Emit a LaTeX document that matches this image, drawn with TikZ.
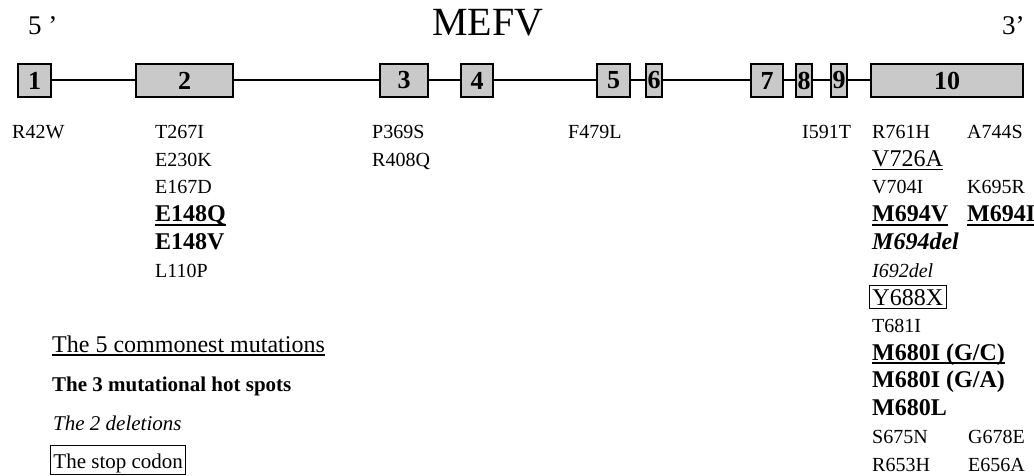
\documentclass[tikz,border=0pt]{standalone}
\usepackage{fontspec}
\setmainfont{Liberation Serif}
\begin{document}
\begin{tikzpicture}[x=1pt,y=-1pt,
  exon/.style={draw=black, line width=1.4pt, fill=black!21, inner sep=0pt, minimum height=33pt,
    font=\fontsize{26}{26}\selectfont\bfseries},
  intron/.style={line width=2pt},
  lbl/.style={anchor=base west, inner sep=0pt, font=\fontsize{20}{24}\selectfont},
  big/.style={anchor=base west, inner sep=0pt, font=\fontsize{24}{28}\selectfont},
  bigb/.style={big, font=\fontsize{24}{28}\selectfont\bfseries},
  ulthick/.style={line width=1.8pt},
  ulthin/.style={line width=1.1pt}]
\useasboundingbox (0,0) rectangle (1034,476);
% titles
\node[anchor=base west, inner sep=0pt, font=\fontsize{27}{30}\selectfont] (five) at (28,35) {5 ’};
\node[anchor=base west, inner sep=0pt, font=\fontsize{40}{44}\selectfont] (title) at (432,36) {MEFV};
\node[anchor=base west, inner sep=0pt, font=\fontsize{27}{30}\selectfont] (three) at (1002,35) {3’};
% exons
\node[exon, minimum width=33pt]  (e1)  at (34.5,80.5) {1};
\node[exon, minimum width=97pt]  (e2)  at (184.5,80.5) {2};
\node[exon, minimum width=48pt]  (e3)  at (404,80.5) {3};
\node[exon, minimum width=32pt]  (e4)  at (477,80.5) {4};
\node[exon, minimum width=33pt]  (e5)  at (613.5,80.5) {5};
\node[exon, minimum width=16pt]  (e6)  at (654,80.5) {6};
\node[exon, minimum width=32pt]  (e7)  at (767,80.5) {7};
\node[exon, minimum width=16pt]  (e8)  at (804,80.5) {8};
\node[exon, minimum width=16pt]  (e9)  at (839,80.5) {9};
\node[exon, minimum width=152pt] (e10) at (947,80.5) {10};
\draw[intron] (e1) -- (e2);
\draw[intron] (e2) -- (e3);
\draw[intron] (e3) -- (e4);
\draw[intron] (e4) -- (e5);
\draw[intron] (e5) -- (e6);
\draw[intron] (e6) -- (e7);
\draw[intron] (e7) -- (e8);
\draw[intron] (e8) -- (e9);
\draw[intron] (e9) -- (e10);
% mutations, exon 1-9
\node[lbl] (r42w) at (12,138.5) {R42W};
\node[lbl] (t267i) at (155,138.5) {T267I};
\node[lbl] (e230k) at (155,166.2) {E230K};
\node[lbl] (e167d) at (155,193.9) {E167D};
\node[bigb] (e148q) at (155,221.6) {E148Q};
\node[bigb] (e148v) at (155,249.3) {E148V};
\node[lbl] (l110p) at (155,277) {L110P};
\draw[ulthick] ([yshift=-3pt]e148q.base west) -- ([yshift=-3pt]e148q.base east);
\node[lbl] (p369s) at (372,138.5) {P369S};
\node[lbl] (r408q) at (372,166.2) {R408Q};
\node[lbl] (f479l) at (568,138.5) {F479L};
\node[lbl] (i591t) at (802,138.5) {I591T};
% exon 10
\node[lbl] (r761h) at (872,138.5) {R761H};
\node[lbl] (a744s) at (967,138.5) {A744S};
\node[big] (v726a) at (872,166.2) {V726A};
\draw[ulthin] ([yshift=-3pt]v726a.base west) -- ([yshift=-3pt]v726a.base east);
\node[lbl] (v704i) at (872,193.9) {V704I};
\node[lbl] (k695r) at (967,193.9) {K695R};
\node[bigb] (m694v) at (872,221.6) {M694V};
\node[bigb] (m694i) at (967,221.6) {M694I};
\draw[ulthick] ([yshift=-3pt]m694v.base west) -- ([yshift=-3pt]m694v.base east);
\draw[ulthick] ([yshift=-3pt]m694i.base west) -- ([yshift=-3pt]m694i.base east);
\node[big, font=\fontsize{24}{28}\selectfont\bfseries\itshape] (m694del) at (872,249.3) {M694del};
\node[lbl, font=\fontsize{20}{24}\selectfont\itshape] (i692del) at (872,277) {I692del};
\node[big, draw, line width=0.9pt, inner xsep=3pt, inner ysep=1pt, text height=19pt, text depth=2pt] (y688x) at (869,305.5) {Y688X};
\node[lbl] (t681i) at (872,332.5) {T681I};
\node[bigb] (m680igc) at (872,360.2) {M680I (G/C)};
\draw[ulthick] ([yshift=-3pt]m680igc.base west) -- ([yshift=-3pt]m680igc.base east);
\node[bigb] (m680iga) at (872,387.9) {M680I (G/A)};
\node[bigb] (m680l) at (872,415.6) {M680L};
\node[lbl] (s675n) at (872,443.3) {S675N};
\node[lbl] (g678e) at (968,443.3) {G678E};
\node[lbl] (r653h) at (872,471) {R653H};
\node[lbl] (e656a) at (968,471) {E656A};
% legend
\node[big] (leg1) at (52,352) {The 5 commonest mutations};
\draw[ulthin] ([yshift=-3pt]leg1.base west) -- ([yshift=-3pt]leg1.base east);
\node[lbl, font=\fontsize{21}{24}\selectfont\bfseries] (leg2) at (52,391) {The 3 mutational hot spots};
\node[lbl, font=\fontsize{21}{24}\selectfont\itshape] (leg3) at (53,430) {The 2 deletions};
\node[lbl, font=\fontsize{21}{24}\selectfont, draw, line width=0.9pt, inner xsep=3pt, inner ysep=1pt, text height=22pt, text depth=5pt] (leg4) at (50,468) {The stop codon};
\end{tikzpicture}
\end{document}
